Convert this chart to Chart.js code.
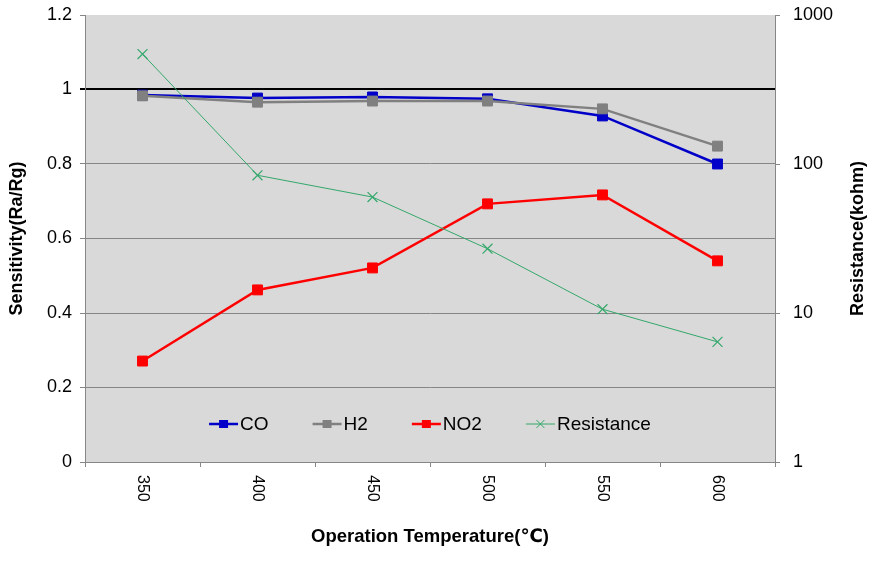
<!DOCTYPE html>
<html><head><meta charset="utf-8">
<script src="https://cdn.jsdelivr.net/npm/chart.js@4.4.1/dist/chart.umd.min.js"></script>
<style>html,body{margin:0;padding:0;background:#fff;}canvas{display:block;}</style>
</head><body>
<canvas id="c" width="869" height="565"></canvas>
<script>
const categories = ['350', '400', '450', '500', '550', '600'];
const coValues = [0.985, 0.977, 0.980, 0.975, 0.929, 0.800];
const h2Values = [0.983, 0.966, 0.969, 0.969, 0.948, 0.848];
const no2Values = [0.271, 0.462, 0.521, 0.693, 0.717, 0.540];
const resistanceValues = [547, 84, 60, 27, 10.6, 6.4];
const leftTicks = [0, 0.2, 0.4, 0.6, 0.8, 1, 1.2];
const rightTicks = [1, 10, 100, 1000];
const xTitle = 'Operation Temperature(\u2103)';
const leftTitle = 'Sensitivity(Ra/Rg)';
const rightTitle = 'Resistance(kohm)';

const FONT = '"Liberation Sans", Arial, "DejaVu Sans", sans-serif';
const GRID = '#868686';

const bgPlugin = {
  id: 'plotBg',
  beforeDraw(chart) {
    const {ctx, chartArea: a} = chart;
    ctx.save();
    ctx.fillStyle = '#ffffff';
    ctx.fillRect(0, 0, chart.width, chart.height);
    ctx.fillStyle = '#d9d9d9';
    ctx.fillRect(a.left, a.top, a.right - a.left, a.bottom - a.top);
    ctx.restore();
  }
};

function drawMarker(ctx, style, x, y, color) {
  ctx.save();
  ctx.strokeStyle = color; ctx.fillStyle = color; ctx.lineWidth = 1;
  if (style === 'rect') {
    ctx.fillRect(x - 4.5, y - 4, 9, 8);
  } else {
    ctx.beginPath();
    ctx.moveTo(x - 4, y - 4); ctx.lineTo(x + 4, y + 4);
    ctx.moveTo(x + 4, y - 4); ctx.lineTo(x - 4, y + 4);
    ctx.stroke();
  }
  ctx.restore();
}

const textPlugin = {
  id: 'customText',
  afterDraw(chart) {
    const {ctx, chartArea: a} = chart;
    const xs = chart.scales.x;
    ctx.save();
    ctx.fillStyle = '#000';
    ctx.font = '16px ' + FONT;
    ctx.textAlign = 'left';
    ctx.textBaseline = 'middle';
    categories.forEach((c, i) => {
      const x = xs.getPixelForValue(i);
      ctx.save();
      ctx.translate(x, a.bottom + 13);
      ctx.rotate(Math.PI / 2);
      ctx.fillText(c, 0, 0);
      ctx.restore();
    });
    ctx.save();
    ctx.font = 'bold 18px ' + FONT;
    ctx.textAlign = 'center';
    ctx.textBaseline = 'middle';
    ctx.translate(858, (a.top + a.bottom) / 2);
    ctx.rotate(-Math.PI / 2);
    ctx.fillText(rightTitle, 0, 0);
    ctx.restore();
    ctx.font = '19px ' + FONT;
    ctx.textBaseline = 'middle';
    ctx.textAlign = 'left';
    const items = chart.data.datasets.map(d => ({
      label: d.label, color: d.borderColor, style: d.pointStyle, w: d.borderWidth
    }));
    const lineLen = 29, gapText = 2, gapItem = 44;
    const widths = items.map(it => lineLen + gapText + ctx.measureText(it.label).width);
    const total = widths.reduce((s, v) => s + v, 0) + gapItem * (items.length - 1);
    let x = (a.left + a.right) / 2 - total / 2;
    const y = 424;
    items.forEach((it, i) => {
      ctx.save();
      ctx.strokeStyle = it.color;
      ctx.lineWidth = it.w;
      ctx.beginPath(); ctx.moveTo(x, y); ctx.lineTo(x + lineLen, y); ctx.stroke();
      ctx.restore();
      drawMarker(ctx, it.style, x + lineLen / 2, y, it.color);
      ctx.fillStyle = '#000';
      ctx.fillText(it.label, x + lineLen + gapText, y + 1);
      x += widths[i] + gapItem;
    });
    ctx.restore();
  }
};

new Chart(document.getElementById('c'), {
  type: 'line',
  data: {
    labels: categories,
    datasets: [
      { label: 'CO', data: coValues, borderColor: '#0000c8', backgroundColor: '#0000c8',
        borderWidth: 2.5, pointStyle: 'rect', pointRadius: 7, pointBorderWidth: 1,
        yAxisID: 'y', order: 3 },
      { label: 'H2', data: h2Values, borderColor: '#808080', backgroundColor: '#808080',
        borderWidth: 2.5, pointStyle: 'rect', pointRadius: 7, pointBorderWidth: 1,
        yAxisID: 'y', order: 2 },
      { label: 'NO2', data: no2Values, borderColor: '#ff0000', backgroundColor: '#ff0000',
        borderWidth: 2.5, pointStyle: 'rect', pointRadius: 7, pointBorderWidth: 1,
        yAxisID: 'y', order: 1 },
      { label: 'Resistance', data: resistanceValues, borderColor: '#33a86a', backgroundColor: '#33a86a',
        borderWidth: 1, pointStyle: 'crossRot', pointRadius: 7, pointBorderWidth: 1.2,
        yAxisID: 'y1', order: 0 }
    ]
  },
  options: {
    responsive: false,
    animation: false,
    devicePixelRatio: 1,
    layout: { padding: { top: 15, left: 0, right: 0, bottom: 0 } },
    plugins: { legend: { display: false }, tooltip: { enabled: false } },
    elements: { line: { tension: 0 } },
    scales: {
      x: {
        type: 'category',
        offset: true,
        grid: { offset: true, drawOnChartArea: false, drawTicks: true, tickLength: 5, color: GRID },
        border: { display: true, color: GRID, width: 1 },
        ticks: { display: false },
        title: { display: true, text: xTitle, color: '#000',
          font: { family: FONT, size: 18.5, weight: 'bold' }, padding: { top: 0, bottom: 17 } },
        afterFit(s) { s.height = 103; s.paddingLeft = 0; s.paddingRight = 0; }
      },
      y: {
        type: 'linear', position: 'left', min: 0, max: 1.2,
        afterBuildTicks(s) { s.ticks = leftTicks.map(v => ({ value: v })); },
        grid: {
          color: c => c.tick && c.tick.value === 1 ? '#000' : (c.tick && c.tick.value === 1.2 ? 'rgba(0,0,0,0)' : GRID),
          tickColor: c => c.tick && c.tick.value === 1 ? '#000' : GRID,
          lineWidth: c => c.tick && c.tick.value === 1 ? 2 : 1,
          tickLength: 5, drawTicks: true
        },
        border: { display: true, color: GRID, width: 1 },
        ticks: { color: '#000', font: { family: FONT, size: 18 }, padding: 8,
          callback: v => String(v) },
        title: { display: true, text: leftTitle, color: '#000',
          font: { family: FONT, size: 18, weight: 'bold' }, padding: { top: 6, bottom: 0 } },
        afterFit(s) { s.width = 85; s.paddingTop = 0; s.paddingBottom = 0; }
      },
      y1: {
        type: 'logarithmic', position: 'right', min: 1, max: 1000,
        afterBuildTicks(s) { s.ticks = rightTicks.map(v => ({ value: v, major: true })); },
        grid: { drawOnChartArea: false, drawTicks: true, tickLength: 5, color: GRID },
        border: { display: true, color: GRID, width: 1 },
        ticks: { color: '#000', font: { family: FONT, size: 18 }, padding: 13,
          callback: v => String(v) },
        afterFit(s) { s.width = 94; s.paddingTop = 0; s.paddingBottom = 0; }
      }
    }
  },
  plugins: [bgPlugin, textPlugin]
});
</script>
</body></html>
